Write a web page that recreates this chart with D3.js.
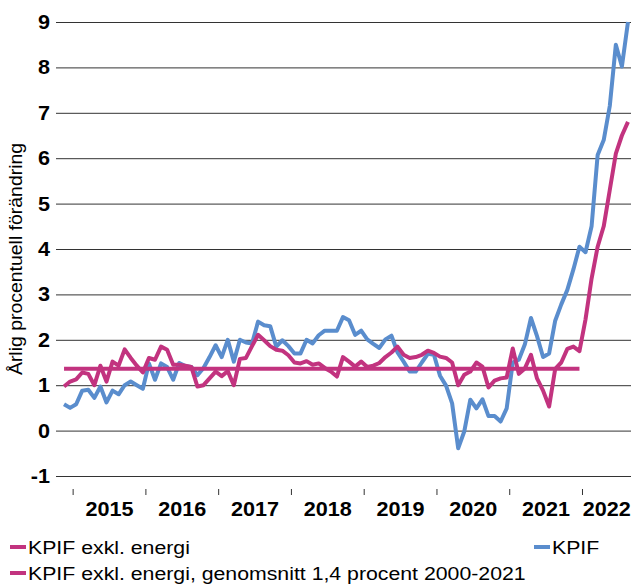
<!DOCTYPE html>
<html>
<head>
<meta charset="utf-8">
<script src="https://cdn.jsdelivr.net/npm/d3@7"></script>
<style>
  body { margin: 0; background: #fff; }
  svg { display: block; font-family: "Liberation Sans", Arial, sans-serif; }
</style>
</head>
<body>
<svg id="chart"></svg>
<script>
// monthly observations, Nov 2014 - Aug 2022
const months = d3.timeMonth.range(new Date(2014, 10, 1), new Date(2022, 8, 1));
const years = [2015, 2016, 2017, 2018, 2019, 2020, 2021, 2022];
const yTicks = [-1, 0, 1, 2, 3, 4, 5, 6, 7, 8, 9];

const kpif = [
  0.58, 0.50, 0.58, 0.88, 0.90, 0.72, 0.97, 0.62, 0.88, 0.80, 1.00, 1.08,
  1.00, 0.92, 1.48, 1.12, 1.48, 1.40, 1.12, 1.49, 1.42, 1.40, 1.22, 1.38,
  1.62, 1.88, 1.62, 2.00, 1.52, 2.00, 1.94, 1.92, 2.40, 2.32, 2.30, 1.85,
  1.99, 1.86, 1.70, 1.70, 2.00, 1.92, 2.10, 2.20, 2.20, 2.20, 2.50, 2.43,
  2.11, 2.20, 2.01, 1.91, 1.82, 2.01, 2.09, 1.72, 1.52, 1.30, 1.30, 1.50,
  1.69, 1.67, 1.21, 0.99, 0.60, -0.39, -0.02, 0.68, 0.49, 0.69, 0.32, 0.32,
  0.20, 0.49, 1.50, 1.56, 1.90, 2.48, 2.08, 1.62, 1.70, 2.42, 2.78, 3.10,
  3.55, 4.05, 3.93, 4.50, 6.07, 6.40, 7.15, 8.50, 8.02, 9.00
];

const kpifExEnergy = [
  0.97, 1.08, 1.13, 1.28, 1.25, 1.00, 1.43, 1.08, 1.52, 1.43, 1.79, 1.60,
  1.43, 1.28, 1.60, 1.56, 1.85, 1.78, 1.45, 1.45, 1.43, 1.40, 0.97, 1.00,
  1.15, 1.30, 1.20, 1.31, 1.00, 1.58, 1.60, 1.86, 2.11, 1.99, 1.86, 1.78,
  1.76, 1.66, 1.50, 1.48, 1.53, 1.45, 1.48, 1.38, 1.30, 1.19, 1.62, 1.52,
  1.41, 1.52, 1.40, 1.43, 1.49, 1.62, 1.72, 1.85, 1.67, 1.60, 1.62, 1.67,
  1.76, 1.71, 1.63, 1.60, 1.50, 1.00, 1.23, 1.30, 1.50, 1.41, 0.95, 1.10,
  1.15, 1.17, 1.81, 1.25, 1.37, 1.67, 1.15, 0.88, 0.53, 1.36, 1.50, 1.80,
  1.85, 1.75, 2.45, 3.35, 4.05, 4.50, 5.30, 6.10, 6.50, 6.80
];

// average 2000-2021, drawn through Dec 2021
const avgLevel = 1.36;
const avgEnd = new Date(2021, 11, 1);

const pink = "#c2337f";
const blue = "#5a8dcd";

const width = 632, height = 584;
const marginLeft = 61, marginRight = 1, marginTop = 22, plotBottom = 476;
const stretch = 1.08; // reference type is a little wider than Liberation Sans

const svg = d3.select("#chart")
    .attr("width", width)
    .attr("height", height)
    .attr("viewBox", [0, 0, width, height]);

const x = d3.scaleBand()
    .domain(months.map(d => +d))
    .range([marginLeft, width - marginRight]);
const xc = d => x(+d) + x.bandwidth() / 2;

const y = d3.scaleLinear()
    .domain([-1, 9])
    .range([plotBottom, marginTop]);

// grid lines + y ticks
svg.append("g")
    .attr("transform", `translate(${marginLeft},0)`)
    .call(d3.axisLeft(y).tickValues(yTicks).tickSize(5).tickPadding(6).tickFormat(d => String(d)))
    .call(g => g.select(".domain").remove())
    .call(g => g.selectAll(".tick line").attr("stroke", "#333"))
    .call(g => g.selectAll(".tick line").clone()
        .attr("x1", 0)
        .attr("x2", width - marginRight - marginLeft)
        .attr("stroke", "#333"))
    .call(g => g.selectAll(".tick text")
        .attr("x", null)
        .attr("transform", `translate(-11,0) scale(${stretch},1)`)
        .attr("fill", "#000")
        .attr("font-size", 20)
        .attr("font-weight", "bold")
        .attr("font-family", "Liberation Sans, Arial, sans-serif"));

// x axis: tick marks on year boundaries, labels centred on each year
const xAxisY = 489;
const jan = months.filter(d => d.getMonth() === 0);
svg.append("g")
  .selectAll("line")
  .data(jan)
  .join("line")
    .attr("x1", d => x(+d))
    .attr("x2", d => x(+d))
    .attr("y1", xAxisY)
    .attr("y2", xAxisY + 6)
    .attr("stroke", "#333");

svg.append("g")
  .selectAll("text")
  .data(years)
  .join("text")
    .attr("transform", yr => {
      const ms = months.filter(d => d.getFullYear() === yr);
      const cx = (x(+ms[0]) + x(+ms[ms.length - 1]) + x.bandwidth()) / 2;
      return `translate(${cx},516) scale(${stretch},1)`;
    })
    .attr("text-anchor", "middle")
    .attr("font-size", 20)
    .attr("font-weight", "bold")
    .text(d => d);

// y title
svg.append("text")
    .attr("transform", `translate(22,259) rotate(-90) scale(${stretch},1)`)
    .attr("text-anchor", "middle")
    .attr("font-size", 18)
    .text("Årlig procentuell förändring");

const line = d3.line()
    .x((d, i) => xc(months[i]))
    .y(d => y(d));

svg.append("path")
    .datum(kpif)
    .attr("fill", "none")
    .attr("stroke", blue)
    .attr("stroke-width", 4)
    .attr("stroke-linejoin", "round")
    .attr("d", line);

svg.append("path")
    .datum(kpifExEnergy)
    .attr("fill", "none")
    .attr("stroke", pink)
    .attr("stroke-width", 4)
    .attr("stroke-linejoin", "round")
    .attr("d", line);

svg.append("line")
    .attr("x1", xc(months[0]))
    .attr("x2", xc(avgEnd))
    .attr("y1", y(avgLevel))
    .attr("y2", y(avgLevel))
    .attr("stroke", pink)
    .attr("stroke-width", 4);

// legend
const legend = [
  {label: "KPIF exkl. energi", color: pink, x: 10, y: 547},
  {label: "KPIF", color: blue, x: 534, y: 547},
  {label: "KPIF exkl. energi, genomsnitt 1,4 procent 2000-2021", color: pink, x: 10, y: 573}
];
const lg = svg.append("g")
  .selectAll("g")
  .data(legend)
  .join("g")
    .attr("transform", d => `translate(${d.x},${d.y})`);
lg.append("line")
    .attr("x1", 0).attr("x2", 16)
    .attr("stroke", d => d.color)
    .attr("stroke-width", 4);
lg.append("text")
    .attr("transform", "translate(18,0) scale(1.12,1)")
    .attr("dy", "0.35em")
    .attr("font-size", 19)
    .text(d => d.label);
</script>
</body>
</html>
